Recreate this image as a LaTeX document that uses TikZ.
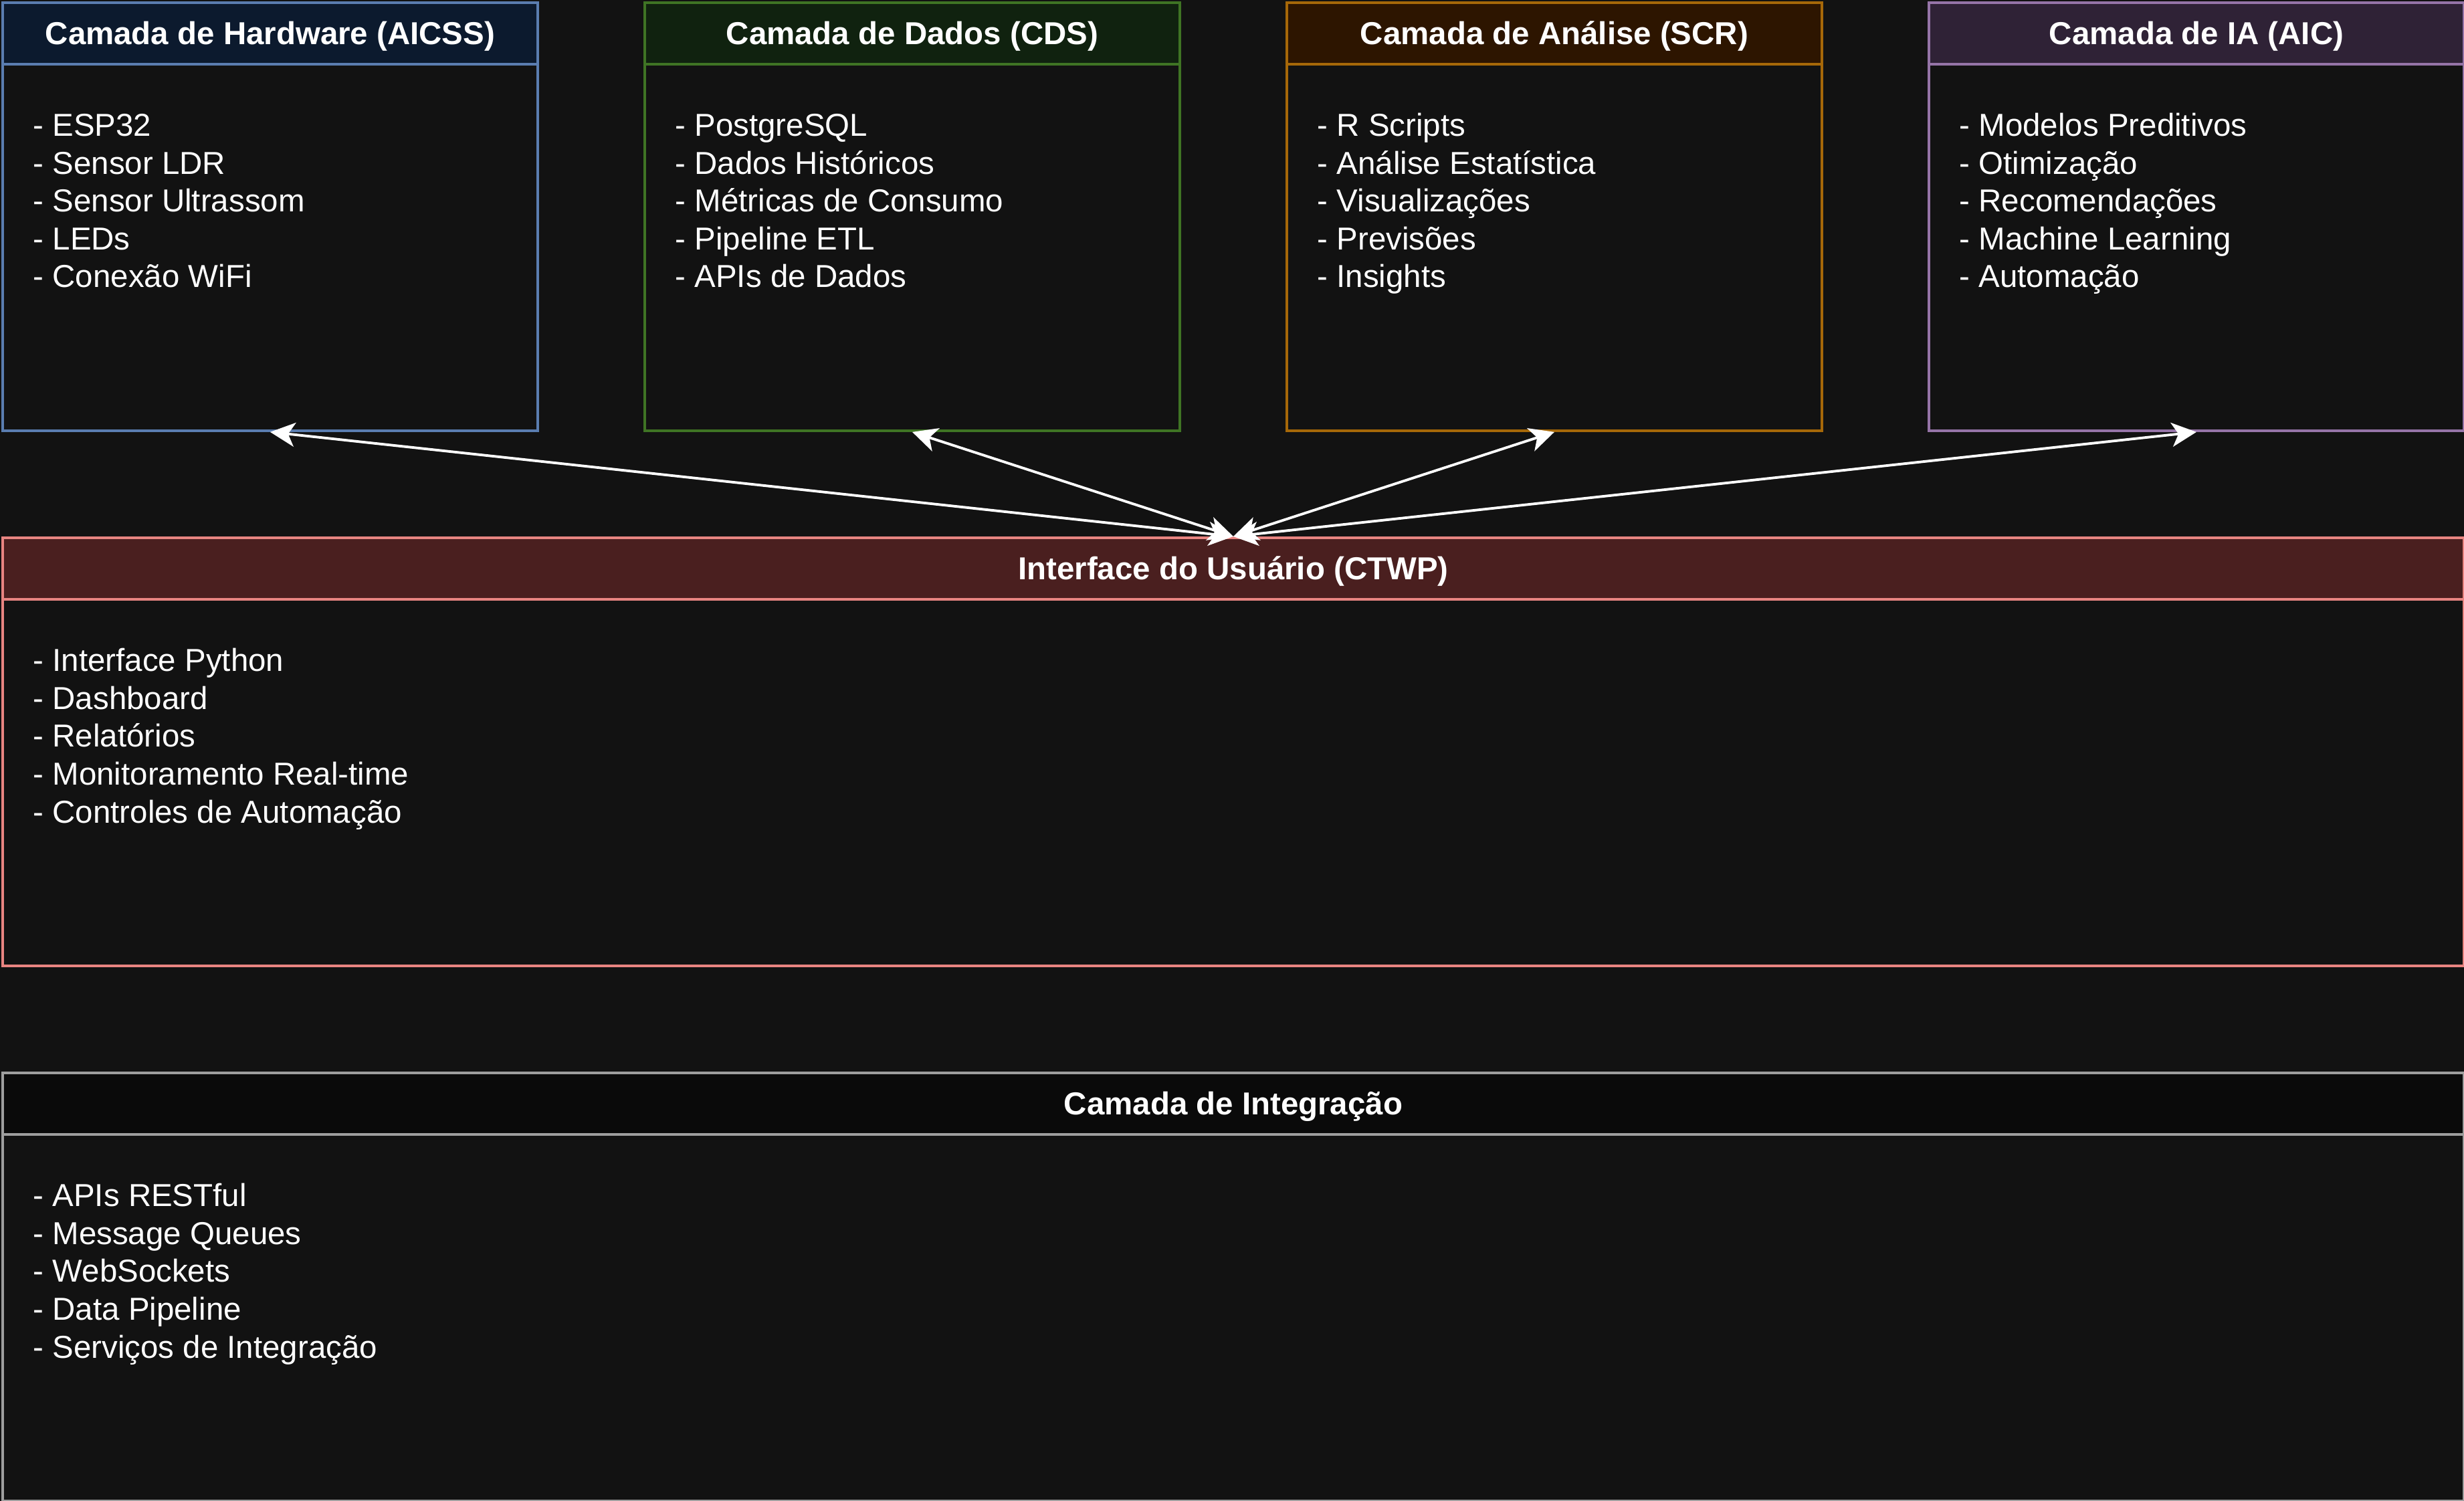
\documentclass[tikz,border=0pt]{standalone}
\usepackage{fontspec}
\setmainfont{Liberation Sans}
\usetikzlibrary{arrows.meta,calc}

\definecolor{bg}{HTML}{121212}
\definecolor{hwline}{HTML}{5A7DB0}
\definecolor{hwhead}{HTML}{0C1A2E}
\definecolor{dbline}{HTML}{3F7424}
\definecolor{dbhead}{HTML}{10220F}
\definecolor{anline}{HTML}{A66808}
\definecolor{anhead}{HTML}{2D1500}
\definecolor{ialine}{HTML}{9674A8}
\definecolor{iahead}{HTML}{2F2236}
\definecolor{uiline}{HTML}{E88481}
\definecolor{uihead}{HTML}{4A1F1F}
\definecolor{inline}{HTML}{9E9E9E}
\definecolor{inhead}{HTML}{0A0A0A}

\begin{document}
\begin{tikzpicture}[
	font=\fontsize{13.5pt}{16.08pt}\selectfont,
	layer/.style={draw=#1,fill=bg,line width=1.1pt,inner sep=0pt,minimum width=8cm,minimum height=6.4cm,anchor=north west},
	headbar/.style={line width=1.1pt,inner sep=0pt,minimum height=0.92cm,anchor=north,text=white,font=\fontsize{13.5pt}{16.08pt}\selectfont\bfseries,text height=0.34cm,text depth=0pt},
	items/.style={align=left,inner sep=0pt,anchor=base west,text=white},
	tip/.tip={Stealth[length=0.37cm,width=0.36cm,inset=0.1cm]},
	link/.style={white,line width=1.1pt,tip-tip}
]
	% Background and page size
	\fill[bg] (0,0) rectangle (36.84,-22.44);
	\useasboundingbox (0,0) rectangle (36.84,-22.44);

	% Hardware layer
	\node[layer=hwline] (hw) at (0.02,-0.02) {};
	\node[headbar,draw=hwline,fill=hwhead,minimum width=8cm] (hwtitle) at (hw.north) {Camada de Hardware (AICSS)};
	\node[items] (hwlist) at ($(hw.north west)+(0.47,-4.28)$) {- ESP32\\- Sensor LDR\\- Sensor Ultrassom\\- LEDs\\- Conexão WiFi};

	% Data layer
	\node[layer=dbline] (db) at (9.62,-0.02) {};
	\node[headbar,draw=dbline,fill=dbhead,minimum width=8cm] (dbtitle) at (db.north) {Camada de Dados (CDS)};
	\node[items] (dblist) at ($(db.north west)+(0.47,-4.28)$) {- PostgreSQL\\- Dados Históricos\\- Métricas de Consumo\\- Pipeline ETL\\- APIs de Dados};

	% Analysis layer
	\node[layer=anline] (an) at (19.22,-0.02) {};
	\node[headbar,draw=anline,fill=anhead,minimum width=8cm] (antitle) at (an.north) {Camada de Análise (SCR)};
	\node[items] (anlist) at ($(an.north west)+(0.47,-4.28)$) {- R Scripts\\- Análise Estatística\\- Visualizações\\- Previsões\\- Insights};

	% AI layer
	\node[layer=ialine] (ia) at (28.82,-0.02) {};
	\node[headbar,draw=ialine,fill=iahead,minimum width=8cm] (iatitle) at (ia.north) {Camada de IA (AIC)};
	\node[items] (ialist) at ($(ia.north west)+(0.47,-4.28)$) {- Modelos Preditivos\\- Otimização\\- Recomendações\\- Machine Learning\\- Automação};

	% User interface
	\node[layer=uiline,minimum width=36.8cm] (ui) at (0.02,-8.02) {};
	\node[headbar,draw=uiline,fill=uihead,minimum width=36.8cm] (uititle) at (ui.north) {Interface do Usuário (CTWP)};
	\node[items] (uilist) at ($(ui.north west)+(0.47,-4.28)$) {- Interface Python\\- Dashboard\\- Relatórios\\- Monitoramento Real-time\\- Controles de Automação};

	% Integration layer
	\node[layer=inline,minimum width=36.8cm] (in) at (0.02,-16.02) {};
	\node[headbar,draw=inline,fill=inhead,minimum width=36.8cm] (intitle) at (in.north) {Camada de Integração};
	\node[items] (inlist) at ($(in.north west)+(0.47,-4.28)$) {- APIs RESTful\\- Message Queues\\- WebSockets\\- Data Pipeline\\- Serviços de Integração};

	% Connections
	\draw[link] (ui.north) -- (hw.south);
	\draw[link] (ui.north) -- (db.south);
	\draw[link] (ui.north) -- (an.south);
	\draw[link] (ui.north) -- (ia.south);
\end{tikzpicture}
\end{document}
